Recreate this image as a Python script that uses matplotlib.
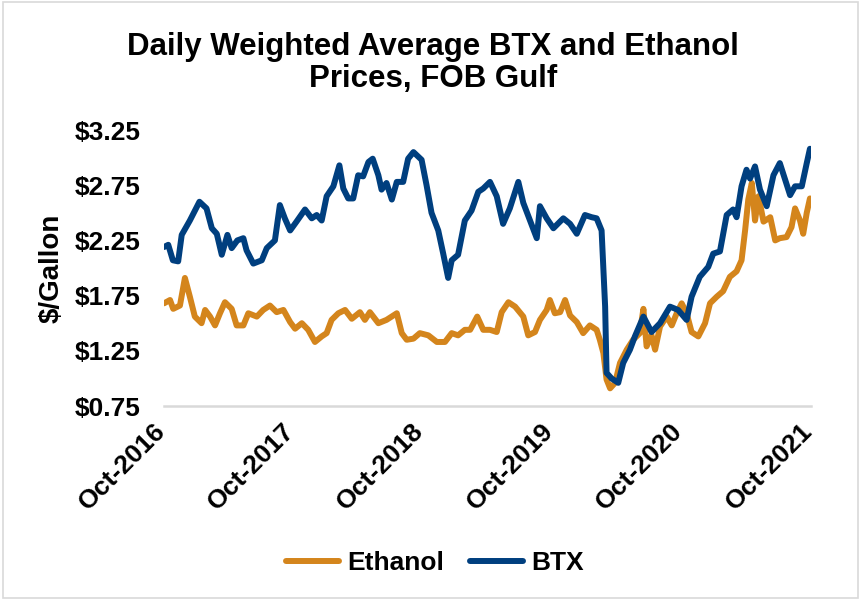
import matplotlib
matplotlib.use("Agg")
import matplotlib.pyplot as plt
import matplotlib.transforms as mtransforms
import pandas as pd
from matplotlib.patches import Rectangle

btx_dates = [
    "2016-10-01", "2016-10-13", "2016-10-26", "2016-11-10", "2016-11-20", "2016-12-13",
    "2017-01-09", "2017-01-29", "2017-02-13", "2017-02-27", "2017-03-13", "2017-03-29",
    "2017-04-10", "2017-04-26", "2017-05-13", "2017-05-22", "2017-06-10", "2017-07-04",
    "2017-07-18", "2017-08-10", "2017-08-24", "2017-09-07", "2017-09-22", "2017-10-10",
    "2017-11-03", "2017-11-22", "2017-12-06", "2017-12-20", "2018-01-03", "2018-01-22",
    "2018-02-08", "2018-02-19", "2018-03-05", "2018-03-19", "2018-04-02", "2018-04-16",
    "2018-05-01", "2018-05-13", "2018-05-29", "2018-06-07", "2018-06-21", "2018-07-06",
    "2018-07-20", "2018-08-07", "2018-08-21", "2018-09-05", "2018-09-28", "2018-10-12",
    "2018-10-26", "2018-11-14", "2018-11-28", "2018-12-12", "2018-12-22", "2019-01-09",
    "2019-01-28", "2019-02-16", "2019-03-07", "2019-03-21", "2019-04-09", "2019-04-28",
    "2019-05-16", "2019-06-04", "2019-06-28", "2019-07-12", "2019-07-31", "2019-08-19",
    "2019-08-28", "2019-09-16", "2019-10-05", "2019-11-02", "2019-11-21", "2019-12-10",
    "2020-01-02", "2020-01-21", "2020-02-04", "2020-02-18", "2020-02-28", "2020-03-03",
    "2020-03-17", "2020-04-05", "2020-04-19", "2020-05-08", "2020-05-22", "2020-06-15",
    "2020-07-08", "2020-08-01", "2020-08-29", "2020-09-21", "2020-10-15", "2020-10-29",
    "2020-11-21", "2020-12-15", "2020-12-29", "2021-01-17", "2021-02-05", "2021-02-23",
    "2021-03-05", "2021-03-19", "2021-04-02", "2021-04-12", "2021-04-26", "2021-05-10",
    "2021-05-29", "2021-06-17", "2021-07-05", "2021-07-20", "2021-08-03", "2021-08-17",
    "2021-09-05", "2021-09-19", "2021-09-28",
]
btx_values = [
    2.19, 2.21, 2.07, 2.06, 2.30, 2.43,
    2.60, 2.54, 2.36, 2.31, 2.12, 2.30,
    2.18, 2.25, 2.27, 2.16, 2.04, 2.07,
    2.18, 2.25, 2.57, 2.45, 2.34, 2.42,
    2.53, 2.45, 2.48, 2.43, 2.65, 2.74,
    2.93, 2.72, 2.63, 2.63, 2.84, 2.83,
    2.96, 2.99, 2.84, 2.71, 2.77, 2.62,
    2.78, 2.78, 2.99, 3.05, 2.98, 2.75,
    2.50, 2.34, 2.13, 1.91, 2.07, 2.12,
    2.43, 2.52, 2.69, 2.72, 2.78, 2.65,
    2.40, 2.54, 2.78, 2.59, 2.43, 2.27,
    2.56, 2.45, 2.36, 2.45, 2.40, 2.31,
    2.48, 2.46, 2.45, 2.34, 1.65, 1.05,
    1.00, 0.96, 1.14, 1.26, 1.38, 1.56,
    1.42, 1.50, 1.65, 1.62, 1.53, 1.74,
    1.92, 2.01, 2.13, 2.15, 2.48, 2.53,
    2.46, 2.74, 2.89, 2.81, 2.92, 2.71,
    2.56, 2.84, 2.95, 2.80, 2.66, 2.74,
    2.74, 2.95, 3.08,
]

ethanol_dates = [
    "2016-10-01", "2016-10-18", "2016-10-27", "2016-11-15", "2016-11-29", "2016-12-13",
    "2016-12-27", "2017-01-15", "2017-01-25", "2017-02-08", "2017-02-22", "2017-03-08",
    "2017-03-22", "2017-04-10", "2017-04-24", "2017-05-13", "2017-05-27", "2017-06-20",
    "2017-07-08", "2017-07-27", "2017-08-15", "2017-09-03", "2017-09-22", "2017-10-06",
    "2017-10-25", "2017-11-12", "2017-12-01", "2017-12-20", "2018-01-03", "2018-01-17",
    "2018-02-05", "2018-02-24", "2018-03-15", "2018-04-07", "2018-04-21", "2018-05-05",
    "2018-05-29", "2018-06-21", "2018-07-20", "2018-08-03", "2018-08-17", "2018-09-05",
    "2018-09-23", "2018-10-17", "2018-11-10", "2018-12-03", "2018-12-22", "2019-01-09",
    "2019-01-28", "2019-02-12", "2019-03-04", "2019-03-21", "2019-04-09", "2019-04-28",
    "2019-05-12", "2019-05-31", "2019-06-19", "2019-07-12", "2019-07-26", "2019-08-14",
    "2019-08-28", "2019-09-16", "2019-09-25", "2019-10-09", "2019-10-24", "2019-11-07",
    "2019-11-21", "2019-12-10", "2019-12-28", "2020-01-16", "2020-02-04", "2020-02-13",
    "2020-02-23", "2020-03-03", "2020-03-13", "2020-03-27", "2020-04-10", "2020-04-29",
    "2020-05-17", "2020-06-05", "2020-06-15", "2020-06-24", "2020-07-08", "2020-07-18",
    "2020-08-01", "2020-08-20", "2020-09-03", "2020-09-17", "2020-10-01", "2020-10-15",
    "2020-10-29", "2020-11-17", "2020-12-06", "2020-12-20", "2021-01-08", "2021-01-26",
    "2021-02-14", "2021-03-05", "2021-03-19", "2021-03-29", "2021-04-07", "2021-04-17",
    "2021-04-26", "2021-05-06", "2021-05-20", "2021-06-08", "2021-06-22", "2021-07-05",
    "2021-07-24", "2021-08-07", "2021-08-17", "2021-08-31", "2021-09-09", "2021-09-19",
    "2021-09-28",
]
ethanol_values = [
    1.68, 1.71, 1.63, 1.66, 1.91, 1.74,
    1.56, 1.50, 1.62, 1.56, 1.48, 1.59,
    1.69, 1.63, 1.48, 1.48, 1.59, 1.56,
    1.62, 1.66, 1.60, 1.62, 1.51, 1.45,
    1.50, 1.44, 1.33, 1.38, 1.41, 1.53,
    1.59, 1.62, 1.54, 1.60, 1.53, 1.60,
    1.50, 1.53, 1.59, 1.41, 1.35, 1.36,
    1.41, 1.39, 1.33, 1.33, 1.41, 1.39,
    1.44, 1.44, 1.56, 1.44, 1.44, 1.42,
    1.60, 1.69, 1.65, 1.56, 1.39, 1.42,
    1.53, 1.62, 1.71, 1.59, 1.60, 1.71,
    1.57, 1.51, 1.41, 1.48, 1.44, 1.35,
    1.23, 0.99, 0.91, 0.96, 1.14, 1.26,
    1.35, 1.41, 1.63, 1.29, 1.39, 1.26,
    1.47, 1.56, 1.48, 1.59, 1.68, 1.59,
    1.42, 1.38, 1.50, 1.68, 1.74, 1.79,
    1.92, 1.97, 2.07, 2.34, 2.62, 2.77,
    2.43, 2.65, 2.42, 2.46, 2.25, 2.27,
    2.28, 2.37, 2.54, 2.43, 2.31, 2.50,
    2.63,
]

y_ticks = [0.75, 1.25, 1.75, 2.25, 2.75, 3.25]
x_tick_dates = ["2016-10-01", "2017-10-01", "2018-10-01", "2019-10-01", "2020-10-01", "2021-10-01"]

title = "Daily Weighted Average BTX and Ethanol\nPrices, FOB Gulf"
y_label = "$/Gallon"
colors = {"Ethanol": "#D4851C", "BTX": "#003F7F"}

plt.rcParams["font.family"] = ["Liberation Sans", "DejaVu Sans"]
plt.rcParams["font.weight"] = "bold"

fig = plt.figure(figsize=(8.61, 6.0), dpi=100)
ax = fig.add_axes([164 / 861, 1 - 406 / 600, (811 - 164) / 861, (406 - 130) / 600])

ax.plot(pd.to_datetime(ethanol_dates), ethanol_values, color=colors["Ethanol"], lw=4.3,
        solid_joinstyle="round", solid_capstyle="round", label="Ethanol")
ax.plot(pd.to_datetime(btx_dates), btx_values, color=colors["BTX"], lw=4.3,
        solid_joinstyle="round", solid_capstyle="round", label="BTX")

ax.set_ylim(0.75, 3.25)
ax.set_xlim(pd.Timestamp(x_tick_dates[0]), pd.Timestamp(x_tick_dates[-1]))
ax.set_yticks(y_ticks)
ax.set_yticklabels([f"${v:.2f}" for v in y_ticks], fontsize=19, fontweight="bold")
ax.set_xticks(pd.to_datetime(x_tick_dates))
ax.set_xticklabels([pd.Timestamp(d).strftime("%b-%Y") for d in x_tick_dates],
                   rotation=45, ha="right", va="top", rotation_mode="anchor",
                   fontsize=19, fontweight="bold")
ax.tick_params(axis="both", length=0)
ax.tick_params(axis="y", pad=17)
ax.tick_params(axis="x", pad=9)

shift = mtransforms.ScaledTranslation(-11 / 100, 0, fig.dpi_scale_trans)
for lbl in ax.get_xticklabels():
    lbl.set_transform(lbl.get_transform() + shift)

for s in ["top", "right", "left"]:
    ax.spines[s].set_visible(False)
ax.spines["bottom"].set_color("#D9D9D9")
ax.spines["bottom"].set_linewidth(1.8)
ax.spines["bottom"].set_zorder(0)

ax.set_ylabel(y_label, fontsize=20, fontweight="bold")
ax.yaxis.set_label_coords(-0.153, 0.5)

fig.text(0.503, 1 - 63 / 600, title, ha="center", va="center", fontsize=22.5,
         fontweight="bold", linespacing=1.12)

fig.legend(loc="center", bbox_to_anchor=(0.505, 1 - 563 / 600), ncol=2, frameon=False,
           prop={"size": 19, "weight": "bold"}, handlelength=2.0, handletextpad=0.3,
           columnspacing=1.0)

fig.patches.append(Rectangle((0.003, 0.004), 0.994, 0.992, transform=fig.transFigure,
                             fill=False, edgecolor="#D9D9D9", linewidth=1.2))

fig.savefig("out.png", dpi=100)
